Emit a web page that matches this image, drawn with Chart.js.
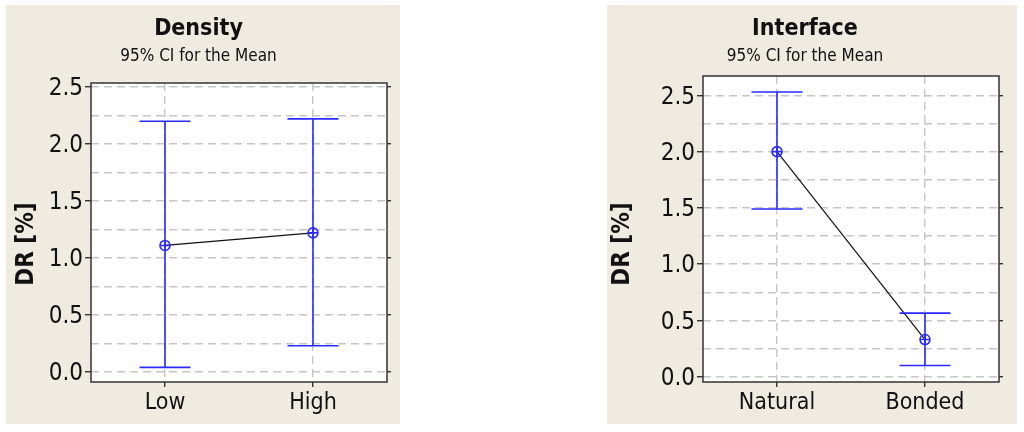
<!DOCTYPE html>
<html>
<head>
<meta charset="utf-8">
<script src="https://cdn.jsdelivr.net/npm/chart.js@4.4.0/dist/chart.umd.min.js"></script>
<style>
    body { margin: 0; background: #fff; width: 1024px; height: 432px; position: relative; overflow: hidden; }
    .panel { position: absolute; top: 5px; height: 419px; background: #efebe1; }
    #p1 { left: 6px; width: 394px; }
    #p2 { left: 607px; width: 410px; }
</style>
</head>
<body>
<div class="panel" id="p1"><canvas id="c1"></canvas></div>
<div class="panel" id="p2"><canvas id="c2"></canvas></div>
<script>
// data
const yTitle = 'DR [%]';
const subTitle = '95% CI for the Mean';
const yTicks = [0, 0.25, 0.5, 0.75, 1, 1.25, 1.5, 1.75, 2, 2.25, 2.5];

const densityLabels = ['Low', 'High'];
const densityMean = [1.11, 1.22];
const densityLower = [0.04, 0.23];
const densityUpper = [2.20, 2.22];

const interfaceLabels = ['Natural', 'Bonded'];
const interfaceMean = [2.00, 0.33];
const interfaceLower = [1.49, 0.10];
const interfaceUpper = [2.53, 0.565];

const FONT = "'DejaVu Sans Condensed', 'DejaVu Sans'";
const BLUE = '#2b2bff';

// white plot area, CI bars, mean markers, frame and the y title
const ciPlugin = {
    id: 'ci',
    beforeDraw(chart) {
        const a = chart.chartArea;
        chart.ctx.save();
        chart.ctx.fillStyle = '#fff';
        chart.ctx.fillRect(a.left, a.top, a.right - a.left, a.bottom - a.top);
        chart.ctx.restore();
    },
    afterDatasetsDraw(chart, args, opts) {
        const ctx = chart.ctx;
        const x = chart.scales.x, y = chart.scales.y;
        const a = chart.chartArea;
        ctx.save();
        ctx.strokeStyle = BLUE;
        ctx.lineWidth = 1.6;
        for (let i = 0; i < opts.mean.length; i++) {
            let px = x.getPixelForValue(i);
            let top = y.getPixelForValue(opts.upper[i]);
            let bot = y.getPixelForValue(opts.lower[i]);
            let py = y.getPixelForValue(opts.mean[i]);
            ctx.beginPath();
            ctx.moveTo(px, top); ctx.lineTo(px, bot);
            ctx.moveTo(px - 25.5, top); ctx.lineTo(px + 25.5, top);
            ctx.moveTo(px - 25.5, bot); ctx.lineTo(px + 25.5, bot);
            ctx.stroke();
            ctx.beginPath();
            ctx.arc(px, py, 5, 0, Math.PI * 2);
            ctx.moveTo(px - 5, py); ctx.lineTo(px + 5, py);
            ctx.moveTo(px, py - 5); ctx.lineTo(px, py + 5);
            ctx.stroke();
        }
        ctx.strokeStyle = '#333';
        ctx.lineWidth = 1.5;
        ctx.strokeRect(a.left, a.top, a.right - a.left, a.bottom - a.top);

        ctx.translate(opts.titleX, 239);
        ctx.rotate(-Math.PI / 2);
        ctx.font = "bold 24px " + FONT;
        ctx.fillStyle = '#111';
        ctx.textAlign = 'center';
        ctx.textBaseline = 'middle';
        ctx.fillText(yTitle, 0, 0);
        ctx.restore();
    }
};

function majorColor(c) {
    return (Math.round(c.tick.value * 100) % 50 === 0) ? '#333' : 'rgba(0,0,0,0)';
}

function setYTicks(scale) {
    scale.ticks = yTicks.map(v => ({ value: v }));
}

function makeChart(id, title, labels, mean, lower, upper, yMin, yMax, lay) {
    return new Chart(document.getElementById(id), {
        type: 'scatter',
        data: {
            datasets: [{
                data: mean.map((m, i) => ({ x: i, y: m })),
                showLine: true,
                borderColor: '#111',
                borderWidth: 1.2,
                pointRadius: 0
            }]
        },
        plugins: [ciPlugin],
        options: {
            responsive: true,
            maintainAspectRatio: false,
            animation: false,
            layout: { padding: { left: 0, right: lay.right, top: 0, bottom: 0 } },
            plugins: {
                legend: { display: false },
                tooltip: { enabled: false },
                title: {
                    display: true, text: title, color: '#111',
                    font: { family: FONT, size: 23, weight: 'bold' },
                    padding: { top: 10, bottom: 4 }
                },
                subtitle: {
                    display: true, text: subTitle, color: '#111',
                    font: { family: FONT, size: 17 },
                    padding: { top: 0, bottom: lay.sub }
                },
                ci: { mean: mean, lower: lower, upper: upper, titleX: lay.titleX }
            },
            scales: {
                x: {
                    type: 'linear', min: -0.5, max: 1.5,
                    afterBuildTicks: s => { s.ticks = labels.map((l, i) => ({ value: i })); },
                    afterFit: s => { s.height = 42; },
                    ticks: { color: '#111', padding: 2, autoSkip: false, font: { family: FONT, size: 23 }, callback: v => labels[v] },
                    grid: { color: '#c6c6c6', lineWidth: 1.4, tickLength: 5, tickColor: '#333', tickBorderDash: [] },
                    border: { display: false, dash: [8, 5] }
                },
                y: {
                    min: yMin, max: yMax,
                    afterBuildTicks: setYTicks,
                    afterFit: s => { s.width = lay.left; },
                    ticks: { color: '#111', padding: 2, autoSkip: false, labelOffset: 2, font: { family: FONT, size: 24 },
                        callback: v => (Math.round(v * 100) % 50 === 0) ? v.toFixed(1) : '' },
                    grid: { color: '#c6c6c6', lineWidth: 1.4, tickLength: 6, tickColor: majorColor, tickBorderDash: [] },
                    border: { display: false, dash: [8, 5] }
                },
                y2: {
                    position: 'right', min: yMin, max: yMax,
                    afterBuildTicks: setYTicks,
                    afterFit: s => { s.width = 4; },
                    ticks: { display: false, autoSkip: false },
                    grid: { drawOnChartArea: false, tickLength: 4, tickColor: majorColor, lineWidth: 1.4 },
                    border: { display: false }
                }
            }
        }
    });
}

makeChart('c1', 'Density', densityLabels, densityMean, densityLower, densityUpper, -0.088, 2.535,
    { left: 85, right: 9, sub: 16, titleX: 21 });
makeChart('c2', 'Interface', interfaceLabels, interfaceMean, interfaceLower, interfaceUpper, -0.047, 2.672,
    { left: 96, right: 14, sub: 9, titleX: 16 });
</script>
</body>
</html>
